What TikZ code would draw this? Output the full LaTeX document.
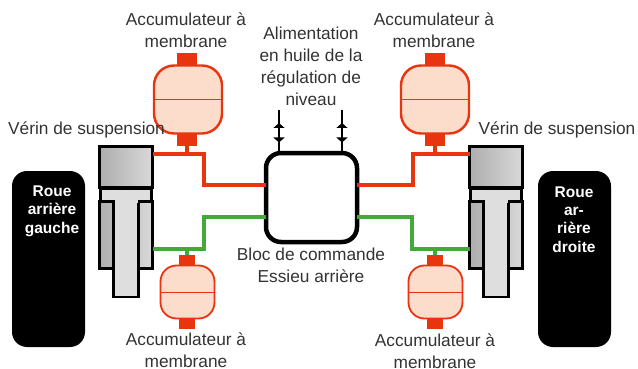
\documentclass[tikz,border=0pt]{standalone}
\usepackage{fontspec}
\setmainfont{Liberation Sans}
\usetikzlibrary{arrows.meta,calc}
\definecolor{pipered}{HTML}{E8340F}
\definecolor{pipegreen}{HTML}{44A83A}
\definecolor{accfill}{HTML}{FCDCCB}
\definecolor{txt}{HTML}{333333}
\tikzset{
  box/.style={rectangle,inner sep=0pt,outer sep=0pt,minimum width=#1},
  lab/.style={align=center,text=txt,inner sep=0pt,font=\fontsize{17.3pt}{22pt}\selectfont},
  wheel/.style={box=73pt,minimum height=176pt,fill=black,rounded corners=15pt},
  wheeltxt/.style={align=center,text=white,inner sep=0pt,font=\fontsize{15.5pt}{18.4pt}\selectfont\bfseries},
  accbig/.style={box=68pt,minimum height=68pt,draw=pipered,fill=accfill,line width=2.4pt,rounded corners=20pt},
  accsmall/.style={box=54pt,minimum height=53pt,draw=pipered,fill=accfill,line width=1.8pt,rounded corners=16pt},
  capbig/.style={box=20pt,minimum height=12pt,fill=pipered},
  capsmall/.style={box=16pt,minimum height=10pt,fill=pipered},
  cyltop/.style={box=53pt,minimum height=41pt,draw=black,line width=2.5pt,left color=black!32,right color=black!15},
  cyllow/.style={box=53pt,minimum height=67pt,draw=black,line width=2.5pt,left color=black!32,right color=black!15},
  head/.style={box=51pt,minimum height=13pt,draw=black,line width=2.5pt,fill=black!13},
  rod/.style={box=25pt,minimum height=95pt,draw=black,line width=2.5pt,fill=black!13},
  blockbox/.style={box=91pt,minimum height=89pt,draw=black,fill=white,line width=4.5pt,rounded corners=15pt},
  redpipe/.style={draw=pipered,line width=4pt},
  greenpipe/.style={draw=pipegreen,line width=4pt},
  supply/.style={draw=black,line width=2pt},
  tipup/.style={-{Triangle[width=11pt,length=5pt]},draw=black,line width=2pt},
}
\begin{document}
\begin{tikzpicture}[x=1pt,y=-1pt]
\useasboundingbox (0,0) rectangle (638,369);
% wheels
\node[wheel] (wl) at (48.5,259) {};
\node[wheel] (wr) at (574.5,259) {};
\node[wheeltxt] (wlt) at (52,211) {Roue\\arrière\\gauche};
\node[wheeltxt] (wrt) at (574,219.5) {Roue\\ar-\\rière\\droite};
% block
\node[blockbox] (block) at (311.5,197.5) {};
% left cylinder
\node[cyllow] (cl) at (126,235) {};
\node[rod] (rl) at (126,249.5) {};
\node[cyltop] (tl) at (126,167) {};
\node[head] (hl) at (126,195) {};
\fill[black!13] (114.5,194) rectangle (137.5,203);
% right cylinder
\node[cyllow] (cr) at (496,235) {};
\node[rod] (rr) at (496,249.5) {};
\node[cyltop] (tr) at (496,167) {};
\node[head] (hr) at (496,195) {};
\fill[black!13] (484.5,194) rectangle (507.5,203);
% accumulators
\node[accbig] (atl) at (188,99.5) {};
\draw[draw=pipered,line width=1.2pt] (atl.west) -- (atl.east);
\node[capbig] (atlt) at (187,59) {};
\node[capbig] (atlb) at (187,140) {};
\node[accbig] (atr) at (435,99.5) {};
\draw[draw=pipered,line width=1.2pt] (atr.west) -- (atr.east);
\node[capbig] (atrt) at (435,59) {};
\node[capbig] (atrb) at (435,140) {};
\node[accsmall] (abl) at (187.5,292) {};
\draw[draw=pipered,line width=1pt] (abl.west) -- (abl.east);
\node[capsmall] (ablt) at (187,260) {};
\node[capsmall] (ablb) at (187,323.5) {};
\node[accsmall] (abr) at (435.5,292) {};
\draw[draw=pipered,line width=1pt] (abr.west) -- (abr.east);
\node[capsmall] (abrt) at (435,260) {};
\node[capsmall] (abrb) at (435,323.5) {};
% pipe ends
\coordinate (ptl) at (tl.east |- 0,154);
\coordinate (ptr) at (tr.west |- 0,154);
\coordinate (pbl) at (cl.east |- 0,249);
\coordinate (pbr) at (cr.west |- 0,249);
\coordinate (btl) at (block.west |- 0,185);
\coordinate (btr) at (block.east |- 0,185);
\coordinate (bbl) at (block.west |- 0,217);
\coordinate (bbr) at (block.east |- 0,217);
% pipes
\draw[redpipe] (ptl) -| (204,185) -- (btl);
\draw[redpipe] (ptr) -| (413,185) -- (btr);
\draw[greenpipe] (pbl) -| (204,217) -- (bbl);
\draw[greenpipe] (pbr) -| (412,217) -- (bbr);
\draw[redpipe] (atlb.south) -- (atlb.south |- ptl);
\draw[redpipe] (atrb.south) -- (atrb.south |- ptr);
\draw[greenpipe] (ablt.north) -- (ablt.north |- pbl);
\draw[greenpipe] (abrt.north) -- (abrt.north |- pbr);
% supply lines
\coordinate (sl) at (279,110);
\coordinate (sr) at (342,110);
\coordinate (sle) at (sl |- block.north);
\coordinate (sre) at (sr |- block.north);
\draw[supply] (sl) -- (sle);
\draw[supply] (sr) -- (sre);
\draw[tipup] (279,128) -- (279,123);
\draw[tipup] (279,137) -- (279,142.5);
\draw[tipup] (342,128) -- (342,123);
\draw[tipup] (342,137) -- (342,142.5);
% labels
\node[lab] (l1) at (186,30) {Accumulateur à\\membrane};
\node[lab] (l2) at (434,30) {Accumulateur à\\membrane};
\node[lab] (l3) at (311,66.5) {Alimentation\\en huile de la\\régulation de\\niveau};
\node[lab] (l4) at (86.5,129.5) {Vérin de suspension};
\node[lab] (l5) at (557,129.5) {Vérin de suspension};
\node[lab] (l6) at (311,265) {Bloc de commande\\Essieu arrière};
\node[lab] (l7) at (186,350) {Accumulateur à\\membrane};
\node[lab] (l8) at (435,351) {Accumulateur à\\membrane};
\end{tikzpicture}
\end{document}
